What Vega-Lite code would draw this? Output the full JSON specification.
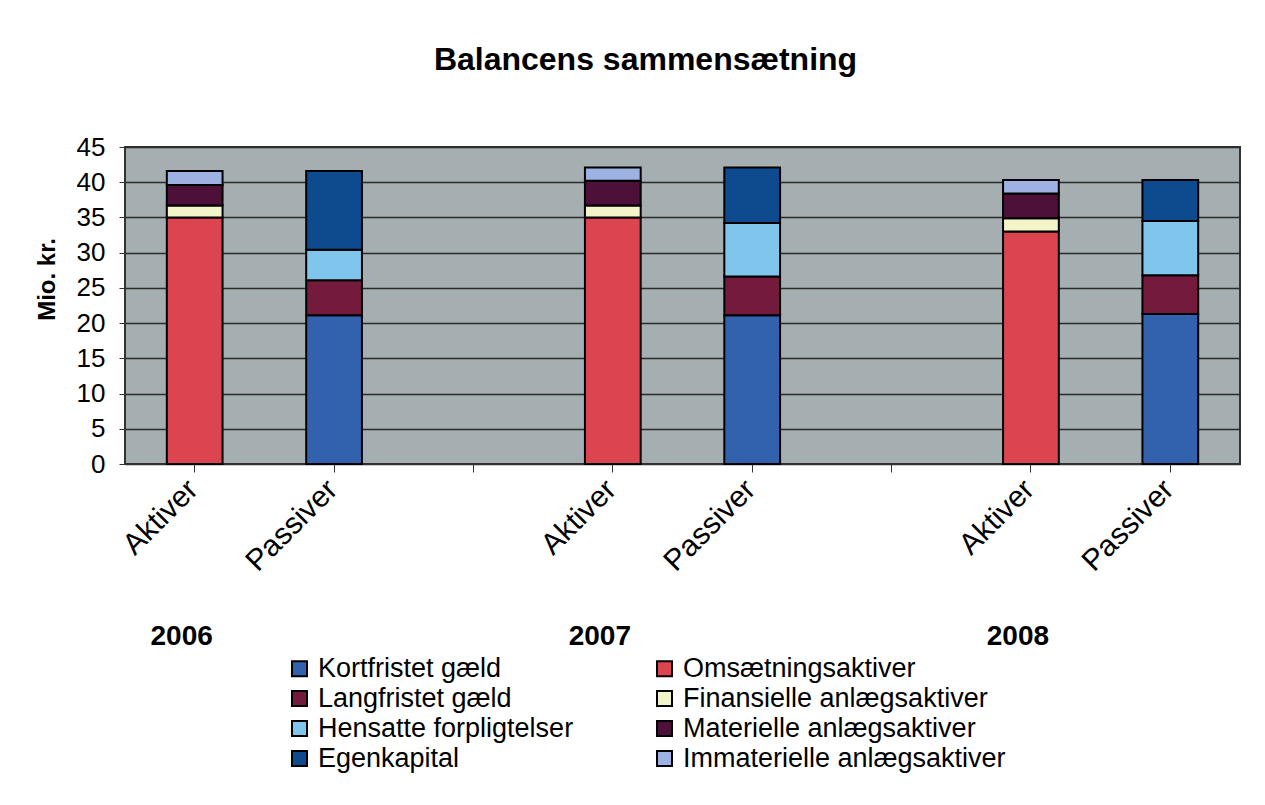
{
  "$schema": "https://vega.github.io/schema/vega-lite/v6.json",
  "padding": {"left": 35, "top": 44, "right": 5, "bottom": 5},
  "width": 1115,
  "height": 317,
  "background": "white",
  "title": {
    "text": "Balancens sammensætning",
    "fontSize": 32,
    "fontWeight": "bold",
    "color": "black",
    "anchor": "middle",
    "dx": -37,
    "offset": 57
  },
  "config": {
    "font": "Liberation Sans",
    "view": {"fill": "#A5AEB0", "stroke": "#333333", "strokeWidth": 2}
  },
  "datasets": {
    "bars": [
      {"slot": "2006 Aktiver", "post": "Omsætningsaktiver", "serie": 5, "value": 35.0},
      {"slot": "2006 Aktiver", "post": "Finansielle anlægsaktiver", "serie": 6, "value": 1.7},
      {"slot": "2006 Aktiver", "post": "Materielle anlægsaktiver", "serie": 7, "value": 2.9},
      {"slot": "2006 Aktiver", "post": "Immaterielle anlægsaktiver", "serie": 8, "value": 2.0},
      {"slot": "2006 Passiver", "post": "Kortfristet gæld", "serie": 1, "value": 21.1},
      {"slot": "2006 Passiver", "post": "Langfristet gæld", "serie": 2, "value": 5.0},
      {"slot": "2006 Passiver", "post": "Hensatte forpligtelser", "serie": 3, "value": 4.3},
      {"slot": "2006 Passiver", "post": "Egenkapital", "serie": 4, "value": 11.2},
      {"slot": "2007 Aktiver", "post": "Omsætningsaktiver", "serie": 5, "value": 35.0},
      {"slot": "2007 Aktiver", "post": "Finansielle anlægsaktiver", "serie": 6, "value": 1.7},
      {"slot": "2007 Aktiver", "post": "Materielle anlægsaktiver", "serie": 7, "value": 3.5},
      {"slot": "2007 Aktiver", "post": "Immaterielle anlægsaktiver", "serie": 8, "value": 1.9},
      {"slot": "2007 Passiver", "post": "Kortfristet gæld", "serie": 1, "value": 21.1},
      {"slot": "2007 Passiver", "post": "Langfristet gæld", "serie": 2, "value": 5.5},
      {"slot": "2007 Passiver", "post": "Hensatte forpligtelser", "serie": 3, "value": 7.6},
      {"slot": "2007 Passiver", "post": "Egenkapital", "serie": 4, "value": 7.9},
      {"slot": "2008 Aktiver", "post": "Omsætningsaktiver", "serie": 5, "value": 33.0},
      {"slot": "2008 Aktiver", "post": "Finansielle anlægsaktiver", "serie": 6, "value": 1.9},
      {"slot": "2008 Aktiver", "post": "Materielle anlægsaktiver", "serie": 7, "value": 3.5},
      {"slot": "2008 Aktiver", "post": "Immaterielle anlægsaktiver", "serie": 8, "value": 1.9},
      {"slot": "2008 Passiver", "post": "Kortfristet gæld", "serie": 1, "value": 21.3},
      {"slot": "2008 Passiver", "post": "Langfristet gæld", "serie": 2, "value": 5.5},
      {"slot": "2008 Passiver", "post": "Hensatte forpligtelser", "serie": 3, "value": 7.7},
      {"slot": "2008 Passiver", "post": "Egenkapital", "serie": 4, "value": 5.8}
    ],
    "years": [
      {"slot": "2006 Aktiver", "year": "2006"},
      {"slot": "2007 Aktiver", "year": "2007"},
      {"slot": "2008 Aktiver", "year": "2008"}
    ]
  },
  "layer": [
    {
      "data": {"name": "bars"},
      "mark": {"type": "bar", "stroke": "black", "strokeWidth": 2, "width": {"band": 0.4}},
      "encoding": {
        "x": {
          "field": "slot",
          "type": "nominal",
          "scale": {
            "domain": ["2006 Aktiver", "2006 Passiver", "2006 -", "2007 Aktiver", "2007 Passiver", "2007 -", "2008 Aktiver", "2008 Passiver"],
            "paddingInner": 0,
            "paddingOuter": 0
          },
          "axis": {
            "orient": "bottom",
            "title": null,
            "labelExpr": "indexof(datum.value, 'Aktiver') >= 0 ? 'Aktiver' : (indexof(datum.value, 'Passiver') >= 0 ? 'Passiver' : '')",
            "labelAngle": -45,
            "labelAlign": "right",
            "labelBaseline": "top",
            "labelFontSize": 30,
            "labelColor": "black",
            "labelPadding": 2,
            "labelOffset": -12,
            "tickSize": 8,
            "tickColor": "#333333",
            "domainColor": "#333333",
            "grid": false
          }
        },
        "y": {
          "field": "value",
          "type": "quantitative",
          "aggregate": "sum",
          "scale": {"domain": [0, 45], "nice": false},
          "axis": {
            "title": "Mio. kr.",
            "titleFontSize": 24,
            "titleFontWeight": "bold",
            "titleColor": "black",
            "titlePadding": 17,
            "titleY": 132,
            "values": [0, 5, 10, 15, 20, 25, 30, 35, 40, 45],
            "labelFontSize": 26,
            "labelColor": "black",
            "labelPadding": 14,
            "tickSize": 6,
            "tickColor": "#333333",
            "domainColor": "#333333",
            "grid": true,
            "gridColor": "#2B2B2B",
            "gridWidth": 1.5
          }
        },
        "order": {"field": "serie", "type": "quantitative", "sort": "ascending"},
        "color": {
          "field": "post",
          "type": "nominal",
          "sort": ["Kortfristet gæld", "Langfristet gæld", "Hensatte forpligtelser", "Egenkapital", "Omsætningsaktiver", "Finansielle anlægsaktiver", "Materielle anlægsaktiver", "Immaterielle anlægsaktiver"],
          "scale": {
            "range": ["#3262AE", "#741A3D", "#80C6EC", "#0E4B8E", "#DC4450", "#F3F5C8", "#4D1038", "#9DB2E2"]
          },
          "legend": {
            "title": null,
            "orient": "none",
            "legendX": 161,
            "legendY": 508,
            "columns": 2,
            "columnPadding": 77,
            "symbolType": "square",
            "symbolSize": 225,
            "symbolStrokeColor": "black",
            "symbolStrokeWidth": 2,
            "labelFontSize": 27,
            "labelColor": "black",
            "labelOffset": 5,
            "labelLimit": 500
          }
        }
      }
    },
    {
      "data": {"name": "years"},
      "mark": {"type": "rule", "opacity": 0},
      "encoding": {
        "x": {
          "field": "slot",
          "type": "nominal",
          "axis": {
            "orient": "bottom",
            "title": null,
            "offset": 158,
            "labelExpr": "indexof(datum.value, 'Aktiver') >= 0 ? split(datum.value, ' ')[0] : ''",
            "labelAngle": 0,
            "labelFontSize": 28,
            "labelFontWeight": "bold",
            "labelColor": "black",
            "labelPadding": 0,
            "labelOffset": -13,
            "ticks": false,
            "domain": false,
            "grid": false
          }
        }
      }
    }
  ],
  "resolve": {"axis": {"x": "independent"}}
}
